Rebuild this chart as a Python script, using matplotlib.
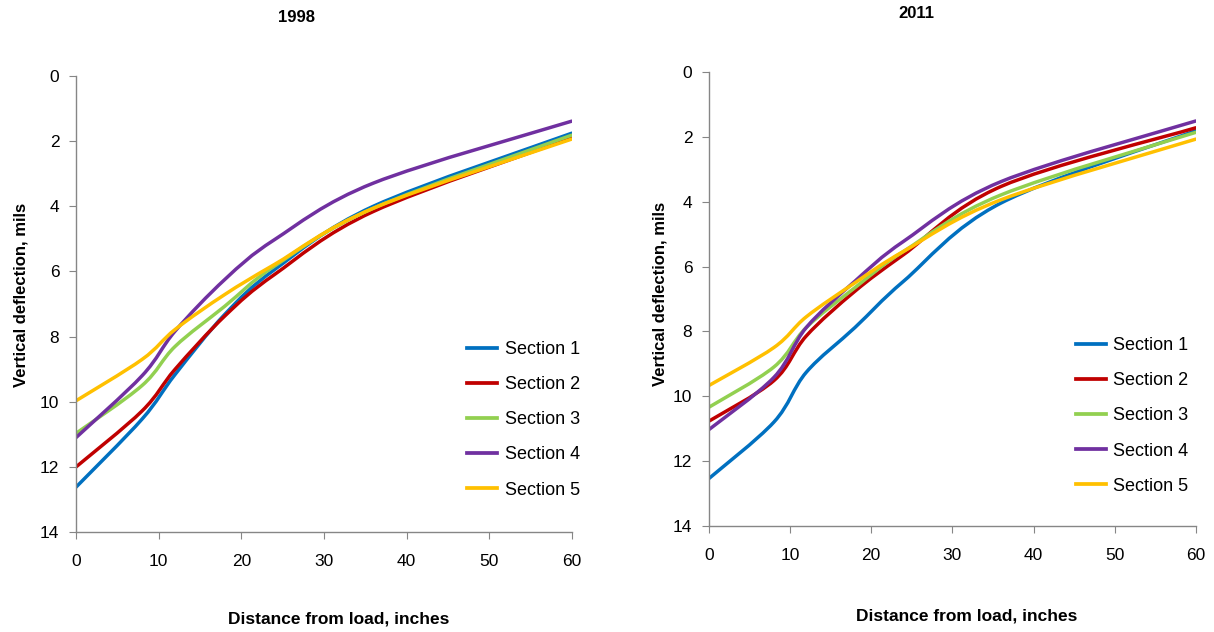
import matplotlib
matplotlib.use('Agg')
import matplotlib.pyplot as plt
from matplotlib.path import Path
from matplotlib.patches import PathPatch
from matplotlib.lines import Line2D

plt.rcParams['font.family'] = ['Liberation Sans', 'DejaVu Sans']

# sensor offsets, inches
offsets = [0, 8, 12, 18, 24, 36, 60]
sections = ['Section 1', 'Section 2', 'Section 3', 'Section 4', 'Section 5']
colors = ['#0070C0', '#C00000', '#92D050', '#7030A0', '#FFC000']

# deflections, mils
d1998 = [
    [12.62, 10.53, 9.16, 7.32, 5.95, 4.00, 1.76],
    [12.00, 10.28, 9.00, 7.37, 6.10, 4.16, 1.90],
    [10.97, 9.50, 8.30, 7.07, 5.84, 4.06, 1.82],
    [11.10, 9.20, 7.83, 6.25, 5.03, 3.29, 1.39],
    [9.97, 8.70, 7.78, 6.71, 5.79, 4.06, 1.94],
]
d2011 = [
    [12.54, 10.80, 9.26, 7.88, 6.45, 4.04, 1.81],
    [10.77, 9.52, 8.14, 6.76, 5.63, 3.53, 1.72],
    [10.34, 9.10, 7.88, 6.65, 5.53, 3.79, 1.86],
    [11.03, 9.42, 7.88, 6.45, 5.22, 3.38, 1.51],
    [9.67, 8.50, 7.55, 6.50, 5.53, 3.94, 2.07],
]


def smooth_path(xs, ys):
    # Excel-style smoothed line: bezier segments through every point
    pts = list(zip(xs, ys))
    verts = [pts[0]]
    codes = [Path.MOVETO]
    n = len(pts)
    for i in range(n - 1):
        p0 = pts[i - 1] if i > 0 else pts[i]
        p1 = pts[i]
        p2 = pts[i + 1]
        p3 = pts[i + 2] if i + 2 < n else pts[i + 1]
        c1 = (p1[0] + (p2[0] - p0[0]) / 6, p1[1] + (p2[1] - p0[1]) / 6)
        c2 = (p2[0] - (p3[0] - p1[0]) / 6, p2[1] - (p3[1] - p1[1]) / 6)
        verts += [c1, c2, p2]
        codes += [Path.CURVE4] * 3
    return Path(verts, codes)


fig = plt.figure(figsize=(12.14, 6.32), dpi=100)
ax1 = fig.add_axes([0.0626, 0.158, 0.4084, 0.722])
ax2 = fig.add_axes([0.584, 0.168, 0.401, 0.718])

legend_pos = {ax1: (1.049, 0.038), ax2: (1.0185, 0.033)}

for ax, data in [(ax1, d1998), (ax2, d2011)]:
    for vals, c in zip(data, colors):
        ax.add_patch(PathPatch(smooth_path(offsets, vals), fill=False,
                               edgecolor=c, lw=2.5, capstyle='round'))
    ax.set_xlim(0, 60)
    ax.set_ylim(14, 0)
    ax.set_xticks(range(0, 61, 10))
    ax.set_yticks(range(0, 15, 2))
    for s in ['top', 'right']:
        ax.spines[s].set_visible(False)
    for s in ['left', 'bottom']:
        ax.spines[s].set_color('#868686')
        ax.spines[s].set_linewidth(1.0)
    ax.tick_params(axis='both', direction='out', length=5, color='#868686',
                   labelsize=12.5)
    ax.tick_params(axis='x', pad=11)
    ax.tick_params(axis='y', pad=7)
    handles = [Line2D([], [], color=c, lw=2.7) for c in colors]
    ax.legend(handles, sections, loc='lower right', bbox_to_anchor=legend_pos[ax],
              frameon=False, fontsize=13, handlelength=1.7, handletextpad=0.4,
              labelspacing=1.0)
    ax.set_ylabel('Vertical deflection, mils', fontsize=12, fontweight='bold')

ax1.yaxis.set_label_coords(-0.095, 0.52)
ax2.yaxis.set_label_coords(-0.086, 0.511)
fig.text(0.279, 0.013, 'Distance from load, inches', ha='center', fontsize=12.5, fontweight='bold')
fig.text(0.796, 0.0175, 'Distance from load, inches', ha='center', fontsize=12.5, fontweight='bold')
fig.text(0.2446, 0.973, '1998', ha='center', va='center', fontsize=12, fontweight='bold')
fig.text(0.755, 0.978, '2011', ha='center', va='center', fontsize=12, fontweight='bold')

fig.savefig('out.png', dpi=100)
